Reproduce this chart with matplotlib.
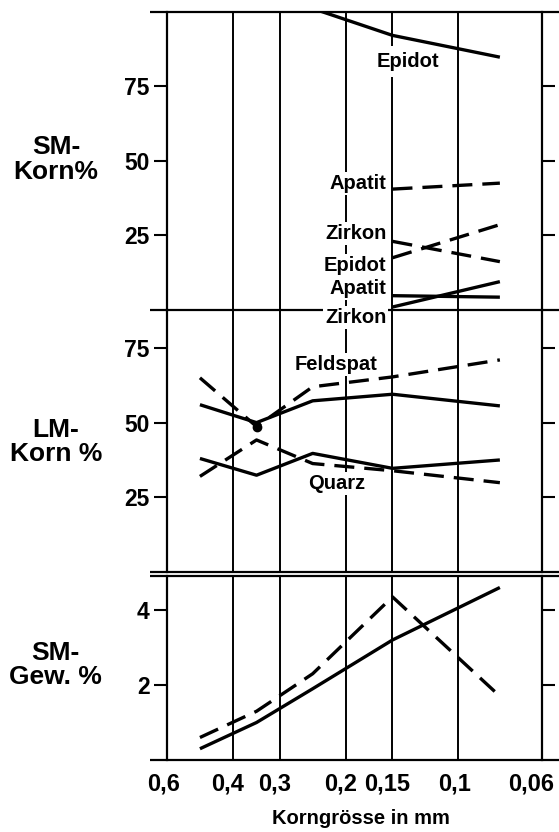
import matplotlib
matplotlib.use('Agg')
import matplotlib.pyplot as plt
from matplotlib.ticker import NullLocator
from matplotlib.transforms import ScaledTranslation

plt.rcParams['font.family'] = ['Liberation Sans', 'DejaVu Sans']
plt.rcParams['font.weight'] = 'bold'

# ---- data ----
x_ticks = [0.6, 0.4, 0.3, 0.2, 0.15, 0.1, 0.06]
x_labels = ['0,6', '0,4', '0,3', '0,2', '0,15', '0,1', '0,06']

# grain-size class means (mm)
grain = [0.49, 0.346, 0.245, 0.15, 0.0775]

# top panel: SM-Korn %
sm_x_epidot = [0.245, 0.15, 0.0775]
sm_epidot_solid = [101, 92, 84.7]
sm_x = [0.15, 0.0775]
sm_apatit_dashed = [40.5, 42.5]
sm_zirkon_dashed = [23, 16.2]
sm_epidot_dashed = [17.5, 28.6]
sm_apatit_solid = [4.8, 4.3]
sm_zirkon_solid = [1.0, 9.5]

# middle panel: LM-Korn %
lm_feldspat_solid = [56, 50, 57.3, 59.5, 55.6]
lm_feldspat_dashed = [65, 48.7, 62, 65.3, 71]
lm_quarz_solid = [38, 32.4, 39.7, 34.7, 37.5]
lm_quarz_dashed = [32, 44.2, 36.3, 33.9, 29.9]

# bottom panel: SM-Gew. %
gew_solid = [0.3, 1.0, 1.9, 3.2, 4.6]
gew_dashed = [0.6, 1.3, 2.3, 4.35, 1.7]

# ---- figure ----
W_PX, H_PX = 559, 832
fig = plt.figure(figsize=(W_PX / 100, H_PX / 100), dpi=100)
fig.patch.set_facecolor('white')

def fy(px):
    return 1 - px / H_PX

L = 167 / W_PX
W = 374.5 / W_PX
ax1 = fig.add_axes([L, fy(310), W, (310 - 11.5) / H_PX])
ax2 = fig.add_axes([L, fy(572), W, (572 - 310) / H_PX])
ax3 = fig.add_axes([L, fy(760), W, (760 - 575.5) / H_PX])

ax1.set_ylim(0, 100)
ax2.set_ylim(0, 87.7)
ax3.set_ylim(0, 4.92)
ax1.set_yticks([25, 50, 75])
ax2.set_yticks([25, 50, 75])
ax3.set_yticks([2, 4])

LW_AX = 1.6
for ax in (ax1, ax2, ax3):
    ax.patch.set_visible(False)
    ax.set_xscale('log')
    ax.set_xlim(0.6, 0.06)
    ax.set_xticks(x_ticks)
    ax.xaxis.set_minor_locator(NullLocator())
    ax.yaxis.set_minor_locator(NullLocator())
    for s in ('top', 'bottom'):
        ax.spines[s].set_visible(False)
    for s in ('left', 'right'):
        ax.spines[s].set_linewidth(LW_AX)
    for xv in x_ticks[1:-1]:
        ax.axvline(xv, color='k', lw=1.4, zorder=1)
    ax.tick_params(axis='y', direction='out', length=9.5, width=1.5,
                   left=True, right=True, labelleft=True, labelright=False,
                   labelsize=16.5, pad=3)
    ax.tick_params(axis='x', length=0, labelbottom=False)

ax3.tick_params(axis='x', labelbottom=True, labelsize=17, pad=9)
ax3.set_xticklabels(x_labels)
# labels in the original sit slightly left of their grid lines
shifts = [-3, -5, -5, -5, -5, -4, -10]
for lab, dx in zip(ax3.get_xticklabels(), shifts):
    lab.set_transform(lab.get_transform() + ScaledTranslation(dx / 100, 0, fig.dpi_scale_trans))

def hline(ax, y):
    ax.plot([-0.045, 1.05], [y, y], transform=ax.transAxes, color='k',
            lw=LW_AX, clip_on=False, solid_capstyle='butt', zorder=2)

hline(ax1, 1)
hline(ax1, 0)
hline(ax2, 0)
hline(ax3, 1)
hline(ax3, 0)

LW = 2.4
DASH = (6, 3)
solid = dict(color='k', lw=LW, zorder=4, solid_capstyle='butt')
dashed = dict(color='k', lw=LW, zorder=4, dashes=DASH, dash_capstyle='butt')

# top
ax1.plot(sm_x_epidot, sm_epidot_solid, **solid)
ax1.plot(sm_x, sm_apatit_dashed, **dashed)
ax1.plot(sm_x, sm_zirkon_dashed, **dashed)
ax1.plot(sm_x, sm_epidot_dashed, **dashed)
ax1.plot(sm_x, sm_apatit_solid, **solid)
ax1.plot(sm_x, sm_zirkon_solid, **solid)

# middle
ax2.plot(grain, lm_feldspat_solid, **solid)
ax2.plot(grain, lm_feldspat_dashed, marker='o', markevery=[1], ms=6,
         mfc='k', mec='k', **dashed)
ax2.plot(grain, lm_quarz_solid, **solid)
ax2.plot(grain, lm_quarz_dashed, **dashed)

# bottom
ax3.plot(grain, gew_solid, **solid)
ax3.plot(grain, gew_dashed, **dashed)

# curve labels
FS_LAB = 14.5
small_box = dict(boxstyle='square,pad=0.1', facecolor='white', edgecolor='none')
ax1.text(0.1362, 83.2, 'Epidot', fontsize=FS_LAB, ha='center', va='center', zorder=3,
         bbox=dict(boxstyle='square,pad=0.3', facecolor='white', edgecolor='none'))
for txt, yv in [('Apatit', 42.4), ('Zirkon', 25.7), ('Epidot', 14.9), ('Apatit', 7.1)]:
    ax1.text(0.1557, yv, txt, fontsize=FS_LAB, ha='right', va='center', zorder=3,
             bbox=small_box)
ax2.text(0.1557, 85.3, 'Zirkon', fontsize=FS_LAB, ha='right', va='center', zorder=3,
         bbox=small_box, clip_on=False)
ax2.text(0.2123, 69.6, 'Feldspat', fontsize=FS_LAB, ha='center', va='center', zorder=3,
         bbox=small_box)
ax2.text(0.211, 29.7, 'Quarz', fontsize=FS_LAB, ha='center', va='center', zorder=3,
         bbox=small_box)

# axis titles
FS_Y = 19
fig.text(56 / W_PX, fy(159.5), 'SM-\nKorn%', fontsize=FS_Y, ha='center', va='center',
         linespacing=1.05, multialignment='center')
fig.text(56 / W_PX, fy(442), 'LM-\nKorn %', fontsize=FS_Y, ha='center', va='center',
         linespacing=1.05, multialignment='center')
fig.text(55 / W_PX, fy(665), 'SM-\nGew. %', fontsize=FS_Y, ha='center', va='center',
         linespacing=1.05, multialignment='center')
fig.text(361 / W_PX, fy(818), 'Korngrösse in mm', fontsize=14.5, ha='center', va='center')

fig.savefig('out.png', dpi=100, facecolor='white')
